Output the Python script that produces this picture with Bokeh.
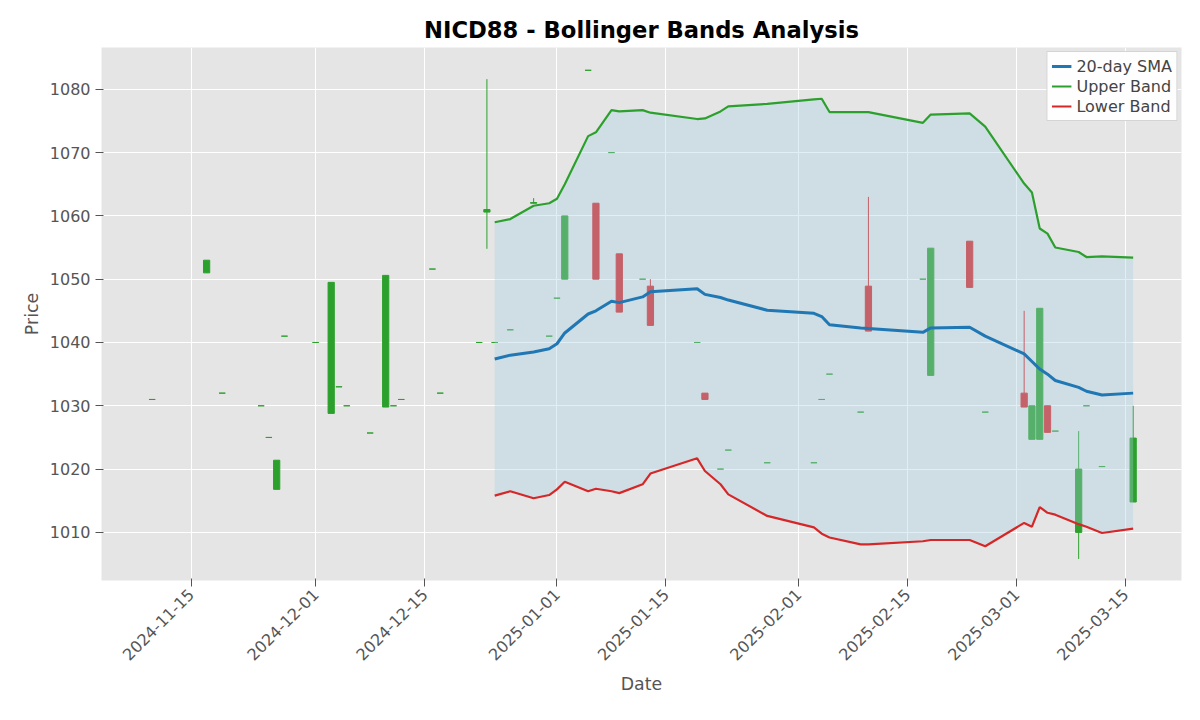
import pandas as pd
from bokeh.plotting import figure
from bokeh.models import ColumnDataSource, FixedTicker, DatetimeTickFormatter, Range1d
from bokeh.embed import file_html
from bokeh.resources import INLINE

# daily candles (open, high, low, close)
dates = ["2024-11-10", "2024-11-17", "2024-11-19", "2024-11-24", "2024-11-25", "2024-11-26",
         "2024-11-27", "2024-12-01", "2024-12-03", "2024-12-04", "2024-12-05", "2024-12-08",
         "2024-12-10", "2024-12-11", "2024-12-12", "2024-12-16", "2024-12-17", "2024-12-22",
         "2024-12-23", "2024-12-24", "2024-12-26", "2024-12-29", "2024-12-31", "2025-01-01",
         "2025-01-02", "2025-01-05", "2025-01-06", "2025-01-08", "2025-01-09", "2025-01-12",
         "2025-01-13", "2025-01-19", "2025-01-20", "2025-01-22", "2025-01-23", "2025-01-28",
         "2025-02-03", "2025-02-04", "2025-02-05", "2025-02-09", "2025-02-10", "2025-02-17",
         "2025-02-18", "2025-02-23", "2025-02-25", "2025-03-02", "2025-03-03", "2025-03-04",
         "2025-03-05", "2025-03-06", "2025-03-09", "2025-03-10", "2025-03-12", "2025-03-16"]
opens = [1031, 1051, 1032, 1030, 1025, 1016.8, 1041, 1040, 1028.8, 1033, 1030, 1025.7,
         1029.8, 1030, 1031, 1051.6, 1032, 1040, 1060.6, 1040, 1042, 1062, 1041, 1047,
         1050, 1083, 1062, 1070, 1054, 1050, 1048.9, 1040, 1032, 1020, 1023, 1021,
         1021, 1031, 1035, 1029, 1048.9, 1050, 1034.8, 1056, 1029, 1032, 1024.7, 1024.7,
         1030, 1026, 1010, 1030, 1020.4, 1014.8]
closes = [1031, 1053, 1032, 1030, 1025, 1021.4, 1041, 1040, 1049.5, 1033, 1030, 1025.7,
          1050.6, 1030, 1031, 1051.6, 1032, 1040, 1061, 1040, 1042, 1062.1, 1041, 1047,
          1060, 1083, 1050, 1070, 1044.8, 1050, 1042.7, 1040, 1031, 1020, 1023, 1021,
          1021, 1031, 1035, 1029, 1041.8, 1050, 1054.9, 1048.7, 1029, 1029.8, 1030, 1045.4,
          1025.8, 1026, 1020, 1030, 1020.4, 1024.9]
highs = [1031, 1053, 1032, 1030, 1025, 1021.4, 1041, 1040, 1049.5, 1033, 1030, 1025.7,
         1050.6, 1030, 1031, 1051.6, 1032, 1040, 1081.6, 1040, 1042, 1062.8, 1041, 1047,
         1060, 1083, 1062, 1070, 1054, 1050, 1050, 1040, 1032, 1020, 1023, 1021,
         1021, 1031, 1035, 1029, 1063, 1050, 1054.9, 1056, 1029, 1045, 1030, 1045.4,
         1030, 1026, 1026, 1030, 1020.4, 1030]
lows = [1031, 1051, 1032, 1030, 1025, 1016.8, 1041, 1040, 1028.8, 1033, 1030, 1025.7,
        1029.8, 1030, 1031, 1051.6, 1032, 1040, 1054.8, 1040, 1042, 1062, 1041, 1047,
        1050, 1083, 1050, 1070, 1044.8, 1050, 1042.7, 1040, 1031, 1020, 1023, 1021,
        1021, 1031, 1035, 1029, 1041.8, 1050, 1034.8, 1048.7, 1029, 1029.8, 1024.7, 1024.7,
        1025.8, 1026, 1005.8, 1030, 1020.4, 1014.8]

# bands start at the 20th candle
sma = [1037.4, 1038, 1038.5, 1039, 1039.8, 1041.5, 1044.5, 1045, 1046.5, 1046.3, 1047.2, 1048,
       1048.5, 1047.6, 1047.1, 1046.7, 1045.1, 1044.6, 1044.1, 1042.8, 1042.3, 1042.2, 1041.6,
       1042.3, 1042.4, 1041, 1038.2, 1037, 1035.8, 1035, 1034, 1032.9, 1032.3, 1031.7, 1032]
upper = [1059, 1059.5, 1061.6, 1062, 1062.7, 1065, 1072.6, 1073.2, 1076.7, 1076.5, 1076.7, 1076.3,
         1075.3, 1075.4, 1076.5, 1077.3, 1077.7, 1078.4, 1078.5, 1076.4, 1076.4, 1076.4, 1074.7,
         1076, 1076.2, 1074.1, 1065.1, 1063.7, 1058, 1057.2, 1055, 1054.3, 1053.5, 1053.6, 1053.4]
lower = [1015.8, 1016.5, 1015.4, 1015.9, 1016.8, 1018, 1016.5, 1016.9, 1016.5, 1016.2, 1017.6, 1019.3,
         1021.7, 1019.7, 1017.6, 1016, 1012.6, 1010.8, 1009.8, 1009.2, 1008.1, 1008.1, 1008.6,
         1008.8, 1008.8, 1007.8, 1011.5, 1010.9, 1014, 1013.1, 1012.8, 1011.3, 1010.9, 1009.9, 1010.6]

tick_dates = ["2024-11-15", "2024-12-01", "2024-12-15", "2025-01-01", "2025-01-15",
              "2025-02-01", "2025-02-15", "2025-03-01", "2025-03-15"]

GREEN, RED, BLUE = "#2ca02c", "#d62728", "#1f77b4"

df = pd.DataFrame({"date": pd.to_datetime(dates), "open": opens, "close": closes,
                   "high": highs, "low": lows})
df["top"] = df[["open", "close"]].max(axis=1)
df["bottom"] = df[["open", "close"]].min(axis=1)
df["color"] = [GREEN if c >= o else RED for o, c in zip(opens, closes)]
candles = ColumnDataSource(df)

bands = ColumnDataSource(dict(date=pd.to_datetime(dates[19:]), sma=sma, upper=upper, lower=lower))

p = figure(width=1192, height=712, x_axis_type="datetime", output_backend="svg",
           toolbar_location=None, title="NICD88 - Bollinger Bands Analysis",
           x_range=Range1d(pd.Timestamp("2024-11-03 12:00"), pd.Timestamp("2025-03-22 05:00")),
           y_range=Range1d(1002.4, 1086.6),
           min_border_left=101, min_border_right=11, min_border_top=47, min_border_bottom=132)

day = 24 * 3600 * 1000
p.segment(x0="date", y0="high", x1="date", y1="low", color="color", line_width=1, source=candles)
p.vbar(x="date", width=0.8 * day, top="top", bottom="bottom", fill_color="color",
       line_color="color", line_width=1, source=candles)

p.varea(x="date", y1="lower", y2="upper", fill_color="#a6cee3", fill_alpha=0.35, source=bands)
p.line(x="date", y="sma", color=BLUE, line_width=3, legend_label="20-day SMA", source=bands)
p.line(x="date", y="upper", color=GREEN, line_width=2.2, legend_label="Upper Band", source=bands)
p.line(x="date", y="lower", color=RED, line_width=2.2, legend_label="Lower Band", source=bands)

p.title.align = "center"
p.title.text_font = "DejaVu Sans"
p.title.text_font_size = "17pt"
p.title.text_font_style = "bold"
p.title.text_color = "black"
p.background_fill_color = "#e5e5e5"
p.border_fill_color = "white"
p.outline_line_color = None
p.grid.grid_line_color = "white"
p.grid.grid_line_width = 1

p.xaxis.ticker = FixedTicker(ticks=[pd.Timestamp(d).value // 10**6 for d in tick_dates])
p.xaxis.formatter = DatetimeTickFormatter(days="%Y-%m-%d", months="%Y-%m-%d")
p.xaxis.major_label_orientation = 0.785
p.yaxis.ticker = FixedTicker(ticks=list(range(1010, 1090, 10)))
p.xaxis.axis_label = "Date"
p.yaxis.axis_label = "Price"
for ax in (p.xaxis, p.yaxis):
    ax.axis_line_color = None
    ax.major_tick_line_color = "#555555"
    ax.minor_tick_line_color = None
    ax.major_label_text_font = "DejaVu Sans"
    ax.major_label_text_font_size = "12pt"
    ax.major_label_text_color = "#555555"
    ax.axis_label_text_font = "DejaVu Sans"
    ax.axis_label_text_font_size = "13pt"
    ax.axis_label_text_font_style = "normal"
    ax.axis_label_text_color = "#555555"

p.legend.location = "top_right"
p.legend.label_text_font = "DejaVu Sans"
p.legend.label_text_font_size = "12pt"
p.legend.background_fill_color = "white"
p.legend.border_line_color = "#aaaaaa"
p.legend.spacing = 0
p.legend.padding = 4
p.legend.margin = 4

open("out.html", "w").write(file_html(p, INLINE))
